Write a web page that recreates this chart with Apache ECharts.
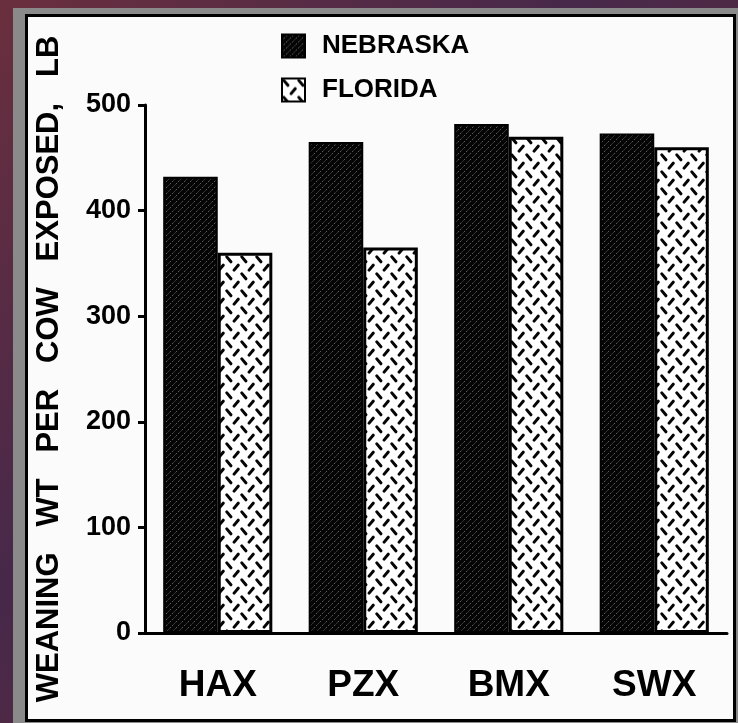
<!DOCTYPE html>
<html>
<head>
<meta charset="utf-8">
<script src="https://cdn.jsdelivr.net/npm/echarts@6/dist/echarts.min.js"></script>
<style>
html,body{margin:0;padding:0;background:#4a2838;}
#chart{width:738px;height:723px;}
</style>
</head>
<body>
<div id="chart"></div>
<script>
const categories = ['HAX', 'PZX', 'BMX', 'SWX'];
const seriesNames = ['NEBRASKA', 'FLORIDA'];
const nebraska = [432, 465, 482, 473];
const florida = [360, 365, 470, 460];
const yTicks = [0, 100, 200, 300, 400, 500];
const yTitle = 'WEANING   WT   PER   COW   EXPOSED,   LB';

function hatchTile() {
  const c = document.createElement('canvas');
  c.width = 6; c.height = 6;
  const g = c.getContext('2d');
  g.fillStyle = '#050505';
  g.fillRect(0, 0, 6, 6);
  g.strokeStyle = 'rgba(210,210,210,0.55)';
  g.lineWidth = 0.8;
  g.setLineDash([2.2, 1.3]);
  g.beginPath(); g.moveTo(-1, 7); g.lineTo(7, -1); g.stroke();
  return c;
}
function dashTile() {
  const c = document.createElement('canvas');
  c.width = 15; c.height = 17;
  const g = c.getContext('2d');
  g.fillStyle = '#ffffff';
  g.fillRect(0, 0, 15, 17);
  g.strokeStyle = '#050505';
  g.lineWidth = 3;
  g.lineCap = 'round';
  g.beginPath(); g.moveTo(1.8, 1.9); g.lineTo(5.9, 6.8); g.stroke();
  g.beginPath(); g.moveTo(9.1, 15.1); g.lineTo(13.2, 10.2); g.stroke();
  return c;
}

const chart = echarts.init(document.getElementById('chart'), null, {renderer: 'canvas'});
const font = "'Liberation Sans', Arial, Helvetica, sans-serif";

const option = {
  backgroundColor: 'transparent',
  animation: false,
  graphic: [
    {type: 'rect', z: -30, shape: {x: 0, y: 0, width: 738, height: 723},
     style: {fill: new echarts.graphic.LinearGradient(0, 0, 1, 1, [
       {offset: 0, color: '#6a2f3e'}, {offset: 0.4, color: '#47284a'},
       {offset: 0.7, color: '#5a2a3c'}, {offset: 1, color: '#3a2240'}])}},
    {type: 'rect', z: -29, shape: {x: 13, y: 8, width: 725, height: 715}, style: {fill: '#8a8a8a'}},
    {type: 'rect', z: -28, shape: {x: 26.5, y: 15.5, width: 708, height: 705},
     style: {fill: '#fbfbfb', stroke: '#000', lineWidth: 3}}
  ],
  legend: {
    orient: 'vertical',
    left: 276, top: 28,
    itemWidth: 23, itemHeight: 23, itemGap: 18,
    icon: 'rect',
    data: seriesNames,
    textStyle: {color: '#000', fontFamily: font, fontWeight: 'bold', fontSize: 26, padding: [0, 0, 0, 12]}
  },
  grid: {left: 145, right: 11, top: 105, bottom: 90, containLabel: false},
  xAxis: {
    type: 'category',
    data: categories,
    axisLine: {lineStyle: {color: '#000', width: 3}},
    axisTick: {show: false},
    axisLabel: {color: '#000', fontFamily: font, fontWeight: 'bold', fontSize: 37, margin: 34}
  },
  yAxis: {
    type: 'value',
    min: 0, max: 500, interval: 100,
    name: yTitle,
    nameLocation: 'middle',
    nameGap: 80,
    nameTextStyle: {color: '#000', fontFamily: font, fontWeight: 'bold', fontSize: 31},
    axisLine: {show: true, lineStyle: {color: '#000', width: 3}},
    axisTick: {show: true, inside: false, length: 7, lineStyle: {color: '#000', width: 3}},
    splitLine: {show: false},
    axisLabel: {color: '#000', fontFamily: font, fontWeight: 'bold', fontSize: 27, margin: 14,
      formatter: v => yTicks.includes(v) ? String(v) : ''}
  },
  series: [
    {name: seriesNames[0], type: 'bar', data: nebraska, barGap: '0%', barCategoryGap: '25%',
     itemStyle: {color: {image: hatchTile(), repeat: 'repeat'}, borderColor: '#000', borderWidth: 2}},
    {name: seriesNames[1], type: 'bar', data: florida,
     itemStyle: {color: {image: dashTile(), repeat: 'repeat'}, borderColor: '#000', borderWidth: 3}}
  ]
};
chart.setOption(option);
</script>
</body>
</html>
